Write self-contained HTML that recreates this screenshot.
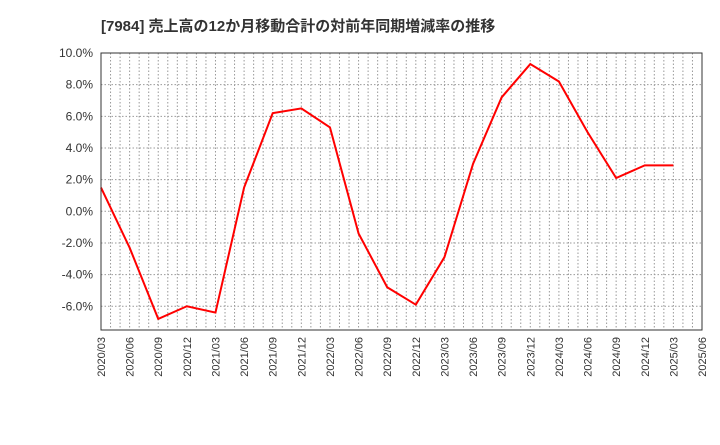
<!DOCTYPE html>
<html><head><meta charset="utf-8"><style>
body{margin:0;background:#fff;font-family:"Liberation Sans","Noto Sans CJK JP",sans-serif}
</style></head><body>
<svg width="720" height="440" xmlns="http://www.w3.org/2000/svg" font-family="Liberation Sans, Noto Sans CJK JP, sans-serif">
<text x="101" y="31" font-size="15" font-weight="bold" fill="#333">[7984]  売上高の12か月移動合計の対前年同期増減率の推移</text>
<g id="grid"></g><g id="axes"></g>
<polyline id="line" fill="none" stroke="#ff0000" stroke-width="2"/>
<rect x="101" y="53" width="601" height="277" fill="none" stroke="#333" stroke-width="1"/>
</svg>
<script>
const categories=["2020/03","2020/06","2020/09","2020/12","2021/03","2021/06","2021/09","2021/12","2022/03","2022/06","2022/09","2022/12","2023/03","2023/06","2023/09","2023/12","2024/03","2024/06","2024/09","2024/12","2025/03","2025/06"];
const values=[1.5,-2.3,-6.8,-6.0,-6.4,1.5,6.2,6.5,5.3,-1.4,-4.8,-5.9,-2.9,3.0,7.2,9.3,8.2,5.0,2.1,2.9,2.9];
const yTicks=[-6,-4,-2,0,2,4,6,8,10];
const L=101,R=702,T=53,B=330,ymin=-7.5,ymax=10;
const x=i=>L+(R-L)*i/(categories.length-1);
const y=v=>T+(B-T)*(ymax-v)/(ymax-ymin);
const NS="http://www.w3.org/2000/svg";
const grid=document.getElementById('grid'),axes=document.getElementById('axes');
for(let m=1;m<(categories.length-1)*3;m++){
 const xx=L+(R-L)*m/((categories.length-1)*3);
 const l=document.createElementNS(NS,'line');
 
 
 l.setAttribute('x1',xx);l.setAttribute('x2',xx);l.setAttribute('y1',T);l.setAttribute('y2',B);
 l.setAttribute('stroke','#999');l.setAttribute('stroke-dasharray','1.5,2');grid.appendChild(l);
}
yTicks.forEach(v=>{
 const yy=y(v);
 if(v<10){const l=document.createElementNS(NS,'line');
 
 
 l.setAttribute('x1',L);l.setAttribute('x2',R);l.setAttribute('y1',yy);l.setAttribute('y2',yy);
 l.setAttribute('stroke','#999');l.setAttribute('stroke-dasharray','1.5,2');grid.appendChild(l);}
 const t=document.createElementNS(NS,'text');
 
 
 t.setAttribute('x',L-8);t.setAttribute('y',yy+4);t.setAttribute('text-anchor','end');
 t.setAttribute('font-size','12');t.setAttribute('fill','#333');t.textContent=v.toFixed(1)+'%';axes.appendChild(t);
});
categories.forEach((c,i)=>{
 const t=document.createElementNS(NS,'text');
 
 
 const xx=x(i)+4,yy=B+7;
 t.setAttribute('transform',`translate(${xx},${yy}) rotate(-90)`);
 t.setAttribute('text-anchor','end');t.setAttribute('font-size','11');t.setAttribute('fill','#333');
 t.textContent=c;axes.appendChild(t);
});
document.getElementById('line').setAttribute('points',values.map((v,i)=>x(i)+','+y(v)).join(' '));
</script>
</body></html>
